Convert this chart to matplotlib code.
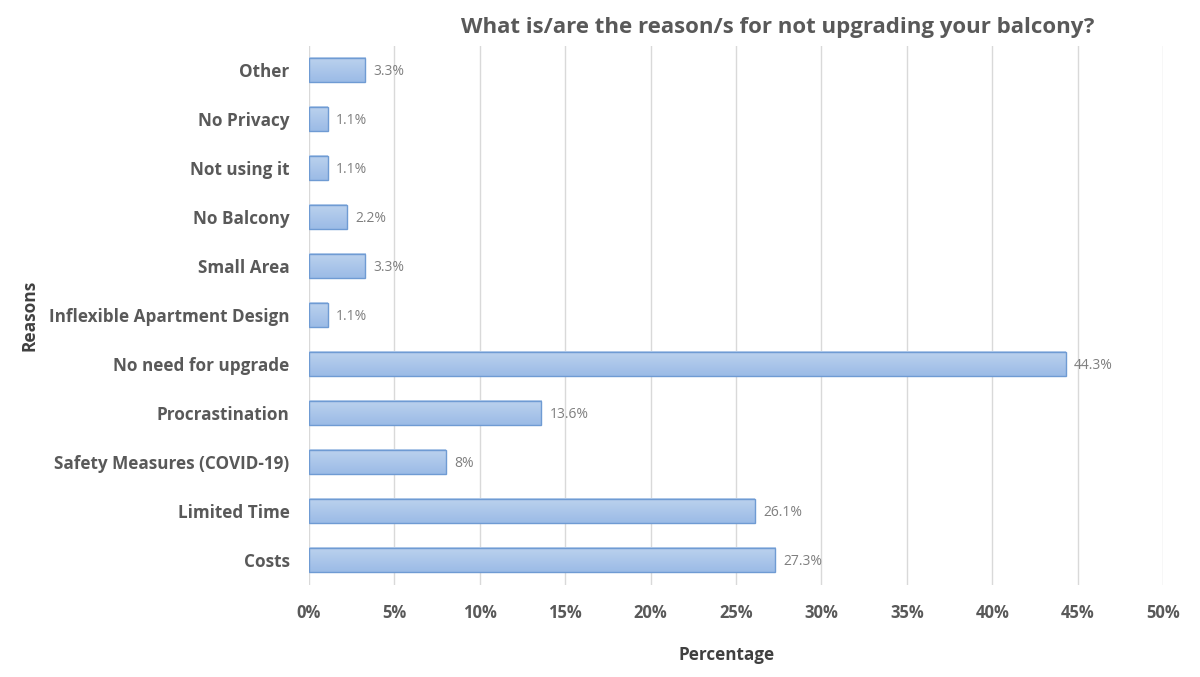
import matplotlib
matplotlib.use("Agg")
import matplotlib.pyplot as plt
import numpy as np
from matplotlib.colors import LinearSegmentedColormap

categories = ["Costs", "Limited Time", "Safety Measures (COVID-19)", "Procrastination",
              "No need for upgrade", "Inflexible Apartment Design", "Small Area",
              "No Balcony", "Not using it", "No Privacy", "Other"]
values = [27.3, 26.1, 8.0, 13.6, 44.3, 1.1, 3.3, 2.2, 1.1, 1.1, 3.3]
value_labels = ["27.3%", "26.1%", "8%", "13.6%", "44.3%", "1.1%", "3.3%", "2.2%", "1.1%", "1.1%", "3.3%"]
xticks = [0, 5, 10, 15, 20, 25, 30, 35, 40, 45, 50]

plt.rcParams['font.family'] = ['Open Sans', 'DejaVu Sans']
grey = "#595959"

fig = plt.figure(figsize=(12, 6.77), dpi=100)
ax = fig.add_axes([309/1200, 1-584.5/677, (1163-309)/1200, 539/677])

y = np.arange(len(categories))
bars = ax.barh(y, values, height=0.5, color="none", edgecolor="#6f9bd3", linewidth=1.0, zorder=3)
cmap = LinearSegmentedColormap.from_list("g", ["#9bbbe6", "#bcd2ee"])
grad = np.linspace(0, 1, 64).reshape(-1, 1)
for b in bars:
    x0, y0 = b.get_x(), b.get_y()
    w, h = b.get_width(), b.get_height()
    ax.imshow(grad, cmap=cmap, extent=[x0, x0 + w, y0, y0 + h], aspect="auto",
              origin="lower", zorder=2)

for yi, v, lab in zip(y, values, value_labels):
    ax.annotate(lab, (v, yi), xytext=(6, -1), textcoords="offset points",
                va="center", ha="left", fontsize=10, color="#7f7f7f")

ax.set_xlim(0, 50)
ax.set_ylim(-0.5, len(categories) - 0.5)
ax.set_xticks(xticks)
ax.set_xticklabels([f"{t}%" for t in xticks])
ax.set_yticks(y)
ax.set_yticklabels(categories)
ax.grid(axis="x", color="#d9d9d9", linewidth=1.0, zorder=0)
ax.set_axisbelow(True)
for s in ax.spines.values():
    s.set_visible(False)
ax.tick_params(axis="both", length=0, colors=grey)
for t in ax.get_xticklabels():
    t.set_fontsize(12); t.set_fontweight("bold"); t.set_color(grey)
for t in ax.get_yticklabels():
    t.set_fontsize(12.3); t.set_fontweight("bold"); t.set_color(grey)
ax.tick_params(axis="x", pad=14)
ax.tick_params(axis="y", pad=14)

fig.text(778/1200, 1-28/677, "What is/are the reason/s for not upgrading your balcony?",
         ha="center", va="center", fontsize=16, fontweight="bold", color=grey)
fig.text(727/1200, 1-655/677, "Percentage", ha="center", va="center",
         fontsize=12.3, fontweight="bold", color="#404040")
fig.text(30/1200, 1-315/677, "Reasons", ha="center", va="center", rotation=90,
         fontsize=12.5, fontweight="bold", color="#404040")

fig.savefig("out.png", dpi=100)
